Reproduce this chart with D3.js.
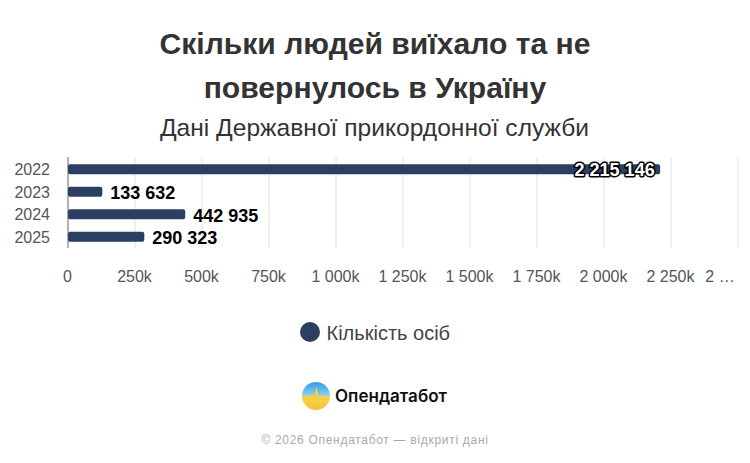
<!DOCTYPE html>
<html><head><meta charset="utf-8">
<script src="https://cdn.jsdelivr.net/npm/d3@7"></script>
<style>html,body{margin:0;padding:0;background:#fff}svg{display:block}text{font-family:"Liberation Sans",Arial,sans-serif}</style>
</head><body><div id="c"></div>
<script>
const years=["2022","2023","2024","2025"];
const counts=[2215146,133632,442935,290323];
const tickValues=[0,250000,500000,750000,1000000,1250000,1500000,1750000,2000000,2250000,2500000];
const tickLabels=["0","250k","500k","750k","1 000k","1 250k","1 500k","1 750k","2 000k","2 250k","2 …"];
const titleLines=["Скільки людей виїхало та не","повернулось в Україну"];
const subtitle="Дані Державної прикордонної служби";
const seriesName="Кількість осіб";
const footer="© 2026 Опендатабот — відкриті дані";
const fmt=v=>d3.format(",")(v).replace(/,/g," ");
const svg=d3.select("#c").append("svg").attr("width",750).attr("height",463);
const x=d3.scaleLinear().domain([0,2500000]).range([68,738]);
const y=d3.scaleBand().domain(years).range([158,248]).paddingInner(0);
const barH=10,navy="#2b3f63";
titleLines.forEach((t,i)=>svg.append("text").attr("x",375).attr("y",[54,98][i]).attr("text-anchor","middle").attr("font-size",30.1).attr("font-weight",700).attr("fill","#333").text(t));
svg.append("text").attr("x",374.5).attr("y",136).attr("text-anchor","middle").attr("font-size",24.6).attr("fill","#333").text(subtitle);
svg.append("g").selectAll("line").data(tickValues.slice(1)).join("line").attr("x1",d=>x(d)).attr("x2",d=>x(d)).attr("y1",157).attr("y2",248).attr("stroke","#e0e0e0");
svg.append("line").attr("x1",x(0)).attr("x2",x(0)).attr("y1",157).attr("y2",248).attr("stroke","#666");
svg.append("g").selectAll("rect").data(years).join("rect").attr("x",x(0)).attr("y",d=>y(d)+y.bandwidth()/2-barH/2).attr("width",(d,i)=>x(counts[i])-x(0)-1.5).attr("height",barH).attr("rx",2).attr("fill",navy);
svg.append("g").selectAll("text").data(years).join("text").attr("x",50).attr("y",d=>y(d)+y.bandwidth()/2+6).attr("text-anchor","end").attr("font-size",16).attr("fill","#555").text(d=>d);
svg.append("g").selectAll("text").data(tickLabels).join("text").attr("x",(d,i)=>i===tickLabels.length-1?720:x(tickValues[i])-0.5).attr("y",282).attr("text-anchor","middle").attr("font-size",16).attr("fill","#555").text(d=>d);
counts.forEach((v,i)=>{
  const inside=v>1500000;
  const t=svg.append("text").attr("y",y(years[i])+y.bandwidth()/2+7.5).attr("font-size",18).attr("font-weight",700).text(fmt(v));
  if(inside){t.attr("x",x(v)-7).attr("y",y(years[i])+y.bandwidth()/2+7).attr("text-anchor","end").attr("fill","#fff").attr("stroke","#000").attr("stroke-width",3).attr("paint-order","stroke").attr("stroke-linejoin","round");}
  else{t.attr("x",x(v)+6.5).attr("fill","#000");}
});
svg.append("circle").attr("cx",310).attr("cy",332).attr("r",10).attr("fill",navy);
svg.append("text").attr("x",326.5).attr("y",340).attr("font-size",20).attr("fill","#444").text(seriesName);
const defs=svg.append("defs");
const lg=defs.append("linearGradient").attr("id","lg").attr("x1",0).attr("y1",0).attr("x2",0).attr("y2",1);
[["0%","#2f9be8"],["48%","#8fd0ee"],["52%","#f7d850"],["100%","#f4bf3a"]].forEach(s=>lg.append("stop").attr("offset",s[0]).attr("stop-color",s[1]));
svg.append("circle").attr("cx",316).attr("cy",396).attr("r",14).attr("fill","url(#lg)");
svg.append("path").attr("d","M302.5 397 L309 397 L312 393 L314 398 L316.5 386 L319 400 L321 394 L323 397 L329.5 397 L329 402 L303 402 Z").attr("fill","#f5cf45").attr("stroke","none");
svg.append("text").attr("x",335).attr("y",402).attr("font-size",17).attr("font-weight",600).attr("fill","#111").attr("style","font-family:Inter,'Liberation Sans',sans-serif").attr("textLength",112).attr("lengthAdjust","spacingAndGlyphs").text("Опендатабот");
svg.append("text").attr("x",375).attr("y",444).attr("text-anchor","middle").attr("font-size",12).attr("letter-spacing",0.7).attr("fill","#aaa").text(footer);
</script></body></html>
